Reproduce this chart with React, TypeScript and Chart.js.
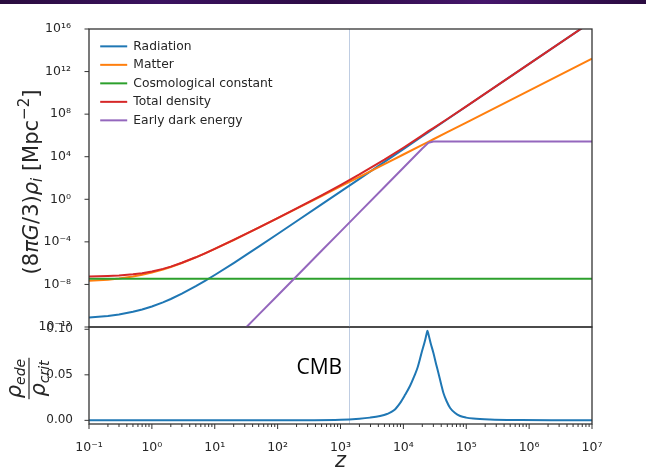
import React, { useEffect, useRef } from "react";
import { Chart, registerables } from "chart.js";

Chart.register(...registerables);

// ---------------- data ----------------
const redshift = [0.1, 0.2, 0.3, 0.5, 0.7, 1, 1.5, 2, 3, 5, 7, 10, 20, 32, 50, 100, 200, 500, 1000, 2000, 5000, 1e4, 2e4, 2.5e4, 3e4, 5e4, 1e5, 1e6, 1e7];
const radiation = [7.69e-12, 1.09e-11, 1.5e-11, 2.66e-11, 4.38e-11, 8.4e-11, 2.05e-10, 4.25e-10, 1.34e-9, 6.8e-9, 2.15e-8, 7.69e-8, 1.02e-6, 6.22e-6, 3.55e-5, 5.46e-4, 8.57e-3, 0.331, 5.27, 84.1, 3.28e3, 5.25e4, 8.4e5, 2.05e6, 4.25e6, 3.28e7, 5.25e8, 5.25e12, 5.25e16];
const matter = [2.16e-8, 2.8e-8, 3.56e-8, 5.47e-8, 7.96e-8, 1.3e-7, 2.53e-7, 4.38e-7, 1.04e-6, 3.5e-6, 8.3e-6, 2.16e-5, 1.5e-4, 5.83e-4, 2.15e-3, 1.67e-2, 0.132, 2.04, 16.3, 130, 2.03e3, 1.62e4, 1.3e5, 2.53e5, 4.38e5, 2.03e6, 1.62e7, 1.62e10, 1.62e13];
const cosmoConstRedshift = [0.1, 1e7];
const cosmoConst = [3.5e-8, 3.5e-8];
const totalDensity = [5.66e-8, 6.3e-8, 7.06e-8, 8.97e-8, 1.15e-7, 1.65e-7, 2.88e-7, 4.73e-7, 1.08e-6, 3.54e-6, 8.36e-6, 2.17e-5, 1.51e-4, 5.89e-4, 2.19e-3, 1.72e-2, 0.141, 2.37, 21.5, 214, 5.33e3, 6.96e4, 1.03e6, 2.5e6, 4.95e6, 3.51e7, 5.41e8, 5.27e12, 5.25e16];
const earlyDarkEnergy = [null, null, null, null, null, null, null, null, null, null, null, null, 5.9e-14, 9.9e-13, 1.44e-11, 9.2e-10, 5.89e-8, 1.44e-5, 9.2e-4, 5.89e-2, 14.4, 920, 5.89e4, 2.0e5, 2.65e5, 2.69e5, 2.69e5, 2.69e5, 2.69e5];

const fractionRedshift = [0.1, 100, 1000, 2000, 2951, 4266, 5495, 7079, 8851, 10640, 12790, 14790, 16830, 19630, 21780, 23230, 24100, 25180, 27100, 30060, 33110, 36060, 39810, 43350, 48750, 55460, 66530, 79980, 99540, 128800, 239900, 724400, 3.09e6, 1e7];
const edeFraction = [0, 0, 0.0006, 0.0018, 0.003, 0.0048, 0.007, 0.011, 0.019, 0.028, 0.038, 0.048, 0.058, 0.075, 0.086, 0.094, 0.0985, 0.094, 0.085, 0.074, 0.062, 0.052, 0.04, 0.03, 0.021, 0.0136, 0.008, 0.0048, 0.003, 0.002, 0.001, 0.0004, 0.0001, 0];

const cmbRedshift = 1370;
const cmbLabel = "CMB";

const seriesLabels = ["Radiation", "Matter", "Cosmological constant", "Total density", "Early dark energy"];
const seriesColors = ["#1f77b4", "#ff7f0e", "#2ca02c", "#d62728", "#9467bd"];

const xMajorTicks = [0.1, 1, 10, 100, 1e3, 1e4, 1e5, 1e6, 1e7];
const xTickLabels = ["10⁻¹", "10⁰", "10¹", "10²", "10³", "10⁴", "10⁵", "10⁶", "10⁷"];
const xMinorMultipliers = [2, 3, 4, 5, 6, 7, 8, 9];
const yTopTicks = [1e-12, 1e-8, 1e-4, 1, 1e4, 1e8, 1e12, 1e16];
const yTopTickLabels = ["10⁻¹²", "10⁻⁸", "10⁻⁴", "10⁰", "10⁴", "10⁸", "10¹²", "10¹⁶"];
const yBottomTicks = [0, 0.05, 0.1];
const yBottomTickLabels = ["0.00", "0.05", "0.10"];

// ---------------- styling ----------------
const FONT = "DejaVu Sans";
const TEXT = "#262626";
const SPINE = "#333333";

type Seg = { t: string; font: string; dy?: number };

function drawSegs(ctx: CanvasRenderingContext2D, segs: Seg[], cx: number, baseY: number) {
  const widths = segs.map((s) => {
    ctx.font = s.font;
    return ctx.measureText(s.t).width;
  });
  const total = widths.reduce((a, b) => a + b, 0);
  let x = cx - total / 2;
  segs.forEach((s, i) => {
    ctx.font = s.font;
    ctx.fillText(s.t, x, baseY + (s.dy || 0));
    x += widths[i];
  });
  return total;
}

function isMajor(v: number) {
  return xMajorTicks.some((m) => Math.abs(v / m - 1) < 1e-6);
}

const cmbLinePlugin = {
  id: "cmbLine",
  beforeDatasetsDraw(chart: any) {
    const { ctx, chartArea: a, scales } = chart;
    const x = Math.round(scales.x.getPixelForValue(cmbRedshift)) + 0.5;
    ctx.save();
    ctx.strokeStyle = "#bfcde2";
    ctx.lineWidth = 1;
    ctx.beginPath();
    ctx.moveTo(x, a.top);
    ctx.lineTo(x, a.bottom);
    ctx.stroke();
    ctx.restore();
  },
};

function makeFramePlugin(drawX: boolean) {
  return {
    id: "frame",
    afterDatasetsDraw(chart: any) {
      const { ctx, chartArea: a, scales } = chart;
      ctx.save();
      ctx.strokeStyle = SPINE;
      ctx.lineWidth = 1.3;
      ctx.strokeRect(a.left, a.top, a.right - a.left, a.bottom - a.top);
      ctx.lineWidth = 1;
      ctx.beginPath();
      scales.y.ticks.forEach((t: any) => {
        const y = scales.y.getPixelForValue(t.value);
        ctx.moveTo(a.left - 4.5, y);
        ctx.lineTo(a.left, y);
      });
      if (drawX) {
        scales.x.ticks.forEach((t: any) => {
          const x = scales.x.getPixelForValue(t.value);
          const len = isMajor(t.value) ? 5 : 3;
          ctx.moveTo(x, a.bottom);
          ctx.lineTo(x, a.bottom + len);
        });
      }
      ctx.stroke();
      ctx.restore();
    },
  };
}

const legendPlacePlugin = {
  id: "legendPlace",
  afterLayout(chart: any) {
    const lg = chart.legend;
    const a = chart.chartArea;
    if (lg && a) {
      lg.left = a.left + 5;
      lg.top = a.top + 5;
      lg.right = a.right;
      lg.bottom = a.bottom;
    }
  },
};

const topTitlePlugin = {
  id: "topTitle",
  afterDraw(chart: any) {
    const { ctx, chartArea: a } = chart;
    ctx.save();
    ctx.fillStyle = TEXT;
    ctx.textAlign = "left";
    ctx.textBaseline = "alphabetic";
    ctx.translate(a.left - 51.5, (a.top + a.bottom) / 2 + 4);
    ctx.rotate(-Math.PI / 2);
    drawSegs(
      ctx,
      [
        { t: "(8", font: `21px "${FONT}"` },
        { t: "πG", font: `italic 21px "${FONT}"` },
        { t: "/3)", font: `21px "${FONT}"` },
        { t: "ρ", font: `italic 21px "${FONT}"` },
        { t: "i", font: `italic 15px "${FONT}"`, dy: 4.5 },
        { t: " [Mpc", font: `21px "${FONT}"` },
        { t: "−2", font: `15px "${FONT}"`, dy: -9 },
        { t: "]", font: `21px "${FONT}"` },
      ],
      0,
      0
    );
    ctx.restore();
  },
};

const bottomTextPlugin = {
  id: "bottomText",
  afterDraw(chart: any) {
    const { ctx, chartArea: a, scales } = chart;
    ctx.save();
    // fraction y label
    ctx.fillStyle = TEXT;
    ctx.textAlign = "left";
    ctx.textBaseline = "alphabetic";
    ctx.translate(a.left - 60, (a.top + a.bottom) / 2 + 3);
    ctx.rotate(-Math.PI / 2);
    const wNum = drawSegs(
      ctx,
      [
        { t: "ρ", font: `italic 21px "${FONT}"` },
        { t: "ede", font: `italic 14px "${FONT}"`, dy: 4 },
      ],
      0,
      -8
    );
    const wDen = drawSegs(
      ctx,
      [
        { t: "ρ", font: `italic 21px "${FONT}"` },
        { t: "crit", font: `italic 14px "${FONT}"`, dy: 4 },
      ],
      0,
      15.5
    );
    const w = Math.max(wNum, wDen) + 2;
    ctx.fillRect(-w / 2, -0.6, w, 1.2);
    ctx.restore();

    // CMB annotation
    ctx.save();
    ctx.fillStyle = "#000000";
    ctx.font = `21px "Open Sans"`;
    ctx.textAlign = "right";
    ctx.textBaseline = "alphabetic";
    const xc = scales.x.getPixelForValue(cmbRedshift);
    ctx.fillText(cmbLabel, xc - 7, a.top + 46.5);
    // x axis title
    ctx.fillStyle = TEXT;
    ctx.font = `italic 21px "${FONT}"`;
    ctx.textAlign = "center";
    ctx.fillText("z", (a.left + a.right) / 2, 467);
    ctx.restore();
  },
};

function xyPoints(xs: number[], ys: (number | null)[]) {
  return xs.map((x, i) => ({ x, y: ys[i] }));
}

export default function App() {
  const topRef = useRef<HTMLCanvasElement | null>(null);
  const bottomRef = useRef<HTMLCanvasElement | null>(null);

  useEffect(() => {
    if (!topRef.current || !bottomRef.current) return;

    const seriesData = [
      xyPoints(redshift, radiation),
      xyPoints(redshift, matter),
      xyPoints(cosmoConstRedshift, cosmoConst),
      xyPoints(redshift, totalDensity),
      xyPoints(redshift, earlyDarkEnergy),
    ];
    const orders = [5, 4, 3, 2, 1];

    const top = new Chart(topRef.current, {
      type: "line",
      data: {
        datasets: seriesLabels.map((label, i) => ({
          label,
          data: seriesData[i] as any,
          borderColor: seriesColors[i],
          backgroundColor: seriesColors[i],
          borderWidth: 2,
          pointRadius: 0,
          tension: 0,
          order: orders[i],
        })),
      },
      options: {
        responsive: false,
        animation: false,
        devicePixelRatio: 1,
        events: [],
        layout: { padding: { top: 29, right: 54, bottom: 142, left: 0 } },
        scales: {
          x: {
            type: "logarithmic",
            min: 0.1,
            max: 1e7,
            display: false,
          },
          y: {
            type: "logarithmic",
            min: 1e-12,
            max: 1e16,
            grid: { display: false },
            border: { display: false },
            afterFit: (s: any) => {
              s.width = 89;
            },
            afterBuildTicks: (s: any) => {
              s.ticks = yTopTicks.map((v) => ({ value: v }));
            },
            ticks: {
              padding: 10,
              color: TEXT,
              font: { family: FONT, size: 12.5 },
              callback: (_v: any, i: number) => yTopTickLabels[i],
            },
          },
        },
        plugins: {
          legend: {
            display: true,
            position: "chartArea" as any,
            align: "start",
            labels: {
              usePointStyle: true,
              pointStyle: "line",
              pointStyleWidth: 27,
              padding: 6.2,
              color: TEXT,
              font: { family: FONT, size: 12.3 },
              sort: (a: any, b: any) => a.datasetIndex - b.datasetIndex,
            },
          },
          tooltip: { enabled: false },
        },
      },
      plugins: [cmbLinePlugin, makeFramePlugin(false), legendPlacePlugin, topTitlePlugin],
    });

    const bottom = new Chart(bottomRef.current, {
      type: "line",
      data: {
        datasets: [
          {
            label: "ρ_ede/ρ_crit",
            data: xyPoints(fractionRedshift, edeFraction) as any,
            borderColor: seriesColors[0],
            backgroundColor: seriesColors[0],
            borderWidth: 2,
            pointRadius: 0,
            cubicInterpolationMode: "monotone",
          },
        ],
      },
      options: {
        responsive: false,
        animation: false,
        devicePixelRatio: 1,
        events: [],
        layout: { padding: { top: 327, right: 54, bottom: 0, left: 0 } },
        scales: {
          x: {
            type: "logarithmic",
            min: 0.1,
            max: 1e7,
            grid: { display: false },
            border: { display: false },
            afterFit: (s: any) => {
              s.height = 45;
            },
            afterBuildTicks: (s: any) => {
              const t: { value: number }[] = [];
              xMajorTicks.forEach((m, i) => {
                t.push({ value: m });
                if (i < xMajorTicks.length - 1) xMinorMultipliers.forEach((k) => t.push({ value: m * k }));
              });
              s.ticks = t;
            },
            ticks: {
              autoSkip: false,
              maxRotation: 0,
              minRotation: 0,
              padding: 8,
              color: TEXT,
              font: { family: FONT, size: 12.5 },
              callback: (v: any) => {
                const idx = xMajorTicks.findIndex((m) => Math.abs(Number(v) / m - 1) < 1e-6);
                return idx >= 0 ? xTickLabels[idx] : "";
              },
            },
          },
          y: {
            type: "linear",
            min: -0.004,
            max: 0.1025,
            grid: { display: false },
            border: { display: false },
            afterFit: (s: any) => {
              s.width = 89;
            },
            afterBuildTicks: (s: any) => {
              s.ticks = yBottomTicks.map((v) => ({ value: v }));
            },
            ticks: {
              padding: 8,
              color: TEXT,
              font: { family: FONT, size: 12 },
              callback: (_v: any, i: number) => yBottomTickLabels[i],
            },
          },
        },
        plugins: {
          legend: { display: false },
          tooltip: { enabled: false },
        },
      },
      plugins: [cmbLinePlugin, makeFramePlugin(true), bottomTextPlugin],
    });

    return () => {
      top.destroy();
      bottom.destroy();
    };
  }, []);

  return (
    <div style={{ position: "fixed", left: 0, top: 0, width: 646, height: 469, background: "#ffffff", overflow: "hidden" }}>
      <div
        style={{
          position: "absolute",
          left: 0,
          top: 0,
          width: 646,
          height: 4,
          background: "linear-gradient(90deg, #2a0c3e 0%, #3b1260 25%, #2d0b45 50%, #45166b 75%, #2a0b40 100%)",
        }}
      />
      <canvas ref={bottomRef} width={646} height={469} style={{ position: "absolute", left: 0, top: 0 }} />
      <canvas ref={topRef} width={646} height={469} style={{ position: "absolute", left: 0, top: 0 }} />
    </div>
  );
}
